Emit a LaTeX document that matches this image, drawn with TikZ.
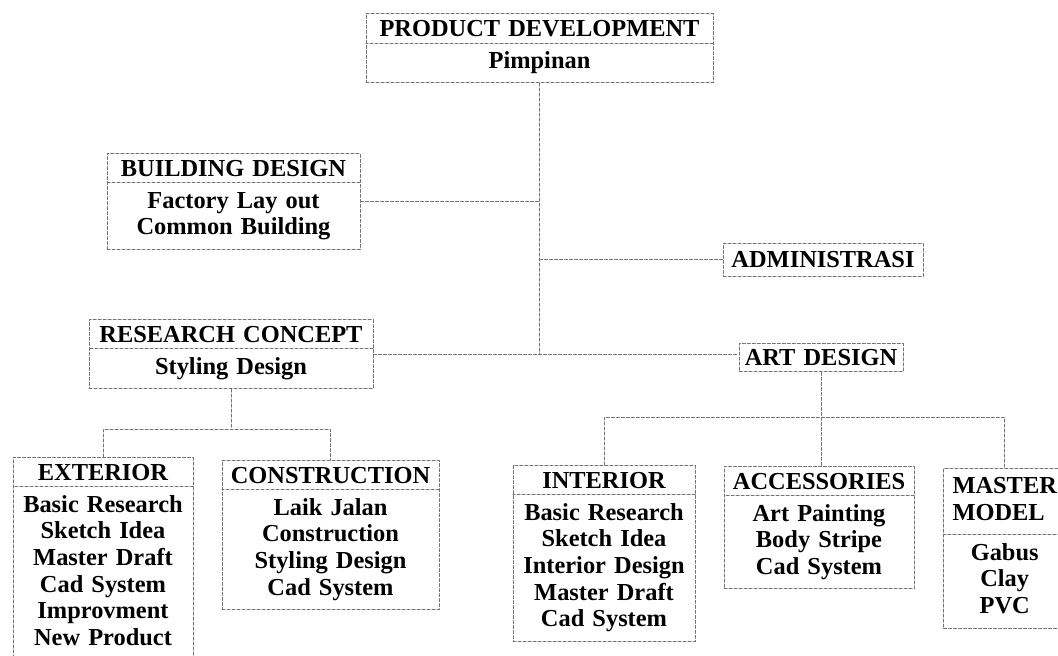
\documentclass[tikz,border=0pt]{standalone}
\usepackage{fontspec}
\setmainfont{Liberation Serif}
\usetikzlibrary{shapes.multipart}

\begin{document}
\begin{tikzpicture}[x=0.5pt, y=-0.5pt, font=\fontsize{12.2}{13.35}\selectfont\bfseries, line join=round, line cap=round,
		box/.style={rectangle split, rectangle split parts=2, draw=black!55, dash pattern=on 1.5pt off 1pt, line width=0.5pt, inner xsep=0pt, inner ysep=3pt, align=center, anchor=north},
		single/.style={rectangle, draw=black!55, dash pattern=on 1.5pt off 1pt, line width=0.5pt, inner xsep=0pt, inner ysep=3pt, align=center, anchor=north},
		link/.style={draw=black!55, dash pattern=on 1.5pt off 1pt, line width=0.5pt}]
			\useasboundingbox (0,0) rectangle (1058,656);
			\fill[white] (0,0) rectangle (1058,656);
			\clip (0,0) rectangle (1058,656);
			% top and staff boxes
			\node[box, text width=173.5pt] (pd) at (539.5,13) {PRODUCT DEVELOPMENT\nodepart{two}\strut Pimpinan\strut};
			\node[box, text width=126.5pt] (bd) at (233.5,153) {BUILDING DESIGN\nodepart{two}\strut Factory Lay out\\Common Building\strut};
			\node[single, text width=100pt, minimum height=16.5pt] (adm) at (823,243) {ADMINISTRASI};
			\node[box, text width=142pt] (rc) at (231,319) {RESEARCH CONCEPT\nodepart{two}\strut Styling Design\strut};
			\node[single, text width=82pt] (art) at (821,343) {ART DESIGN};
			% lower level
			\node[box, text width=90pt] (ext) at (103,457) {EXTERIOR\nodepart{two}\strut Basic Research\\Sketch Idea\\Master Draft\\Cad System\\Improvment\\New Product\strut};
			\node[box, text width=108.5pt] (con) at (330.5,460) {CONSTRUCTION\nodepart{two}\strut Laik Jalan\\Construction\\Styling Design\\Cad System\strut};
			\node[box, text width=91pt] (int) at (604,465) {INTERIOR\nodepart{two}\strut Basic Research\\Sketch Idea\\Interior Design\\Master Draft\\Cad System\strut};
			\node[box, text width=95pt] (acc) at (819,466) {ACCESSORIES\nodepart{two}\strut Art Painting\\Body Stripe\\Cad System\strut};
			\node[box, inner xsep=4.5pt, anchor=north west] (mm) at (943,468) {\begin{tabular}{@{}l@{}}MASTER\\MODEL\end{tabular}\nodepart{two}\strut Gabus\\Clay\\PVC\strut};
			% trunk
			\draw[link] (pd.south) -- (pd.south |- rc.east) coordinate (hub);
			\draw[link] (bd.east) -- (bd.east -| hub);
			\draw[link] (adm.west) -- (adm.west -| hub);
			\draw[link] (rc.east) -- (rc.east -| art.west);
			% research concept branches
			\draw[link] (rc.south) -- ++(0,40) coordinate (rcfork);
			\draw[link] (ext.north) |- (rcfork) -| (con.north);
			% art design branches
			\draw[link] (art.south) -- (art.south |- acc.north);
			\path (art.south) ++(0,45) coordinate (artfork);
			\draw[link] (int.north) |- (artfork) -| (mm.north);
		\end{tikzpicture}
\end{document}
